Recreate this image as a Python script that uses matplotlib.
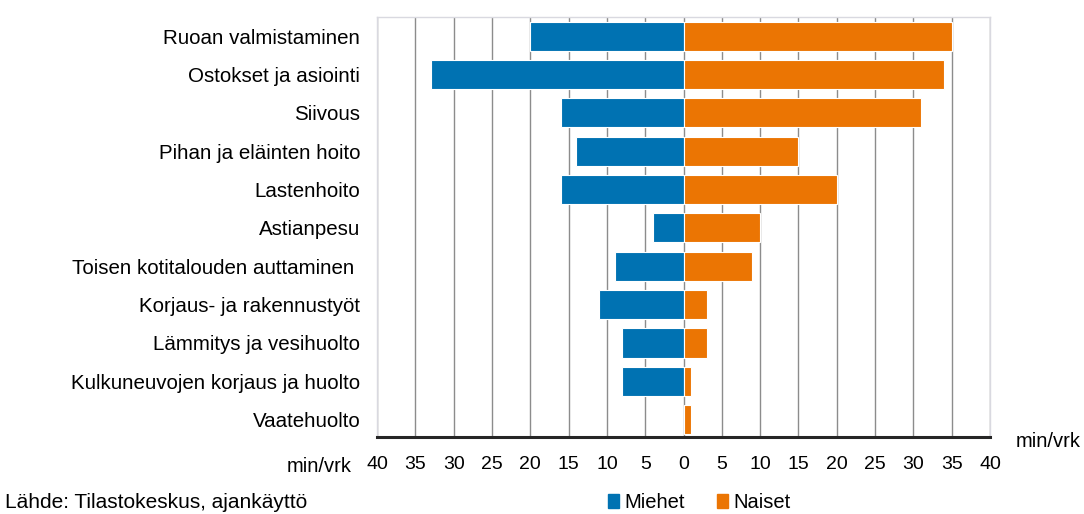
import matplotlib.pyplot as plt
import numpy as np
from matplotlib.patches import Patch
from matplotlib.ticker import MultipleLocator, FuncFormatter

plt.rcParams['font.family'] = ['Liberation Sans', 'DejaVu Sans']

categories = ['Ruoan valmistaminen', 'Ostokset ja asiointi', 'Siivous',
              'Pihan ja eläinten hoito', 'Lastenhoito', 'Astianpesu',
              'Toisen kotitalouden auttaminen ', 'Korjaus- ja rakennustyöt',
              'Lämmitys ja vesihuolto', 'Kulkuneuvojen korjaus ja huolto',
              'Vaatehuolto']
miehet = [20, 33, 16, 14, 16, 4, 9, 11, 8, 8, 0]
naiset = [35, 34, 31, 15, 20, 10, 9, 3, 3, 1, 1]

blue = '#0072b2'
orange = '#eb7503'

fig = plt.figure(figsize=(10.84, 5.14), dpi=100)
ax = fig.add_axes([0.3478, 0.150, 0.5655, 0.817])

y = np.arange(len(categories))
ax.barh(y, -np.array(miehet), height=0.76, color=blue, edgecolor='white', linewidth=0.8, zorder=3)
ax.barh(y, naiset, height=0.76, color=orange, edgecolor='white', linewidth=0.8, zorder=3)

ax.set_xlim(-40, 40)
ax.set_ylim(10.45, -0.5)
ax.xaxis.set_major_locator(MultipleLocator(5))
ax.xaxis.set_major_formatter(FuncFormatter(lambda v, p: '%d' % abs(v)))
ax.grid(axis='x', color='#8c8c8c', linewidth=1, zorder=0)
ax.set_yticks(y)
ax.set_yticklabels(categories, fontsize=14.8)
ax.tick_params(axis='both', length=0)
ax.tick_params(axis='x', labelsize=14, pad=14)
ax.tick_params(axis='y', pad=12)

for s in ['top', 'left', 'right']:
    ax.spines[s].set_color('#d9d9e0')
    ax.spines[s].set_linewidth(1)
ax.spines['bottom'].set_color('#262626')
ax.spines['bottom'].set_linewidth(2.2)

fig.text(0.324, 0.092, 'min/vrk', fontsize=14.5, ha='right', va='center')
fig.text(0.937, 0.142, 'min/vrk', fontsize=14.5, ha='left', va='center')
fig.text(0.005, 0.022, 'Lähde: Tilastokeskus, ajankäyttö', fontsize=15, ha='left', va='center')

handles = [Patch(color=blue, label='Miehet'), Patch(color=orange, label='Naiset')]
fig.legend(handles=handles, loc='center', bbox_to_anchor=(0.645, 0.022), ncol=2,
           frameon=False, fontsize=14.5, handlelength=0.55, handleheight=0.65,
           handletextpad=0.25, columnspacing=1.6)

fig.savefig('out.png', dpi=100)
